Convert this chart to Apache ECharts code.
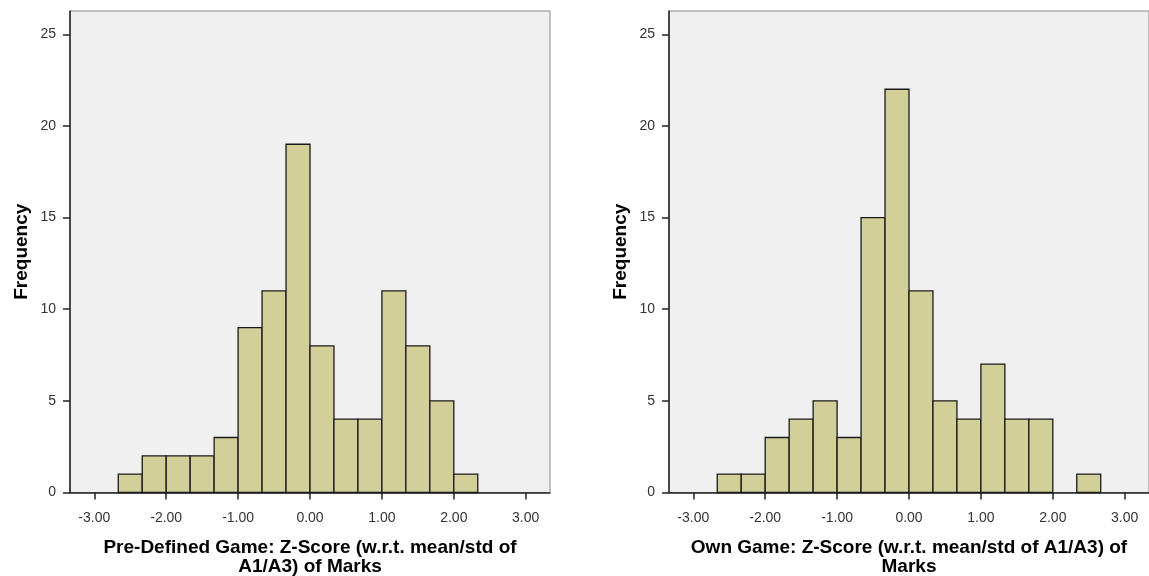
<!DOCTYPE html>
<html><head><meta charset="utf-8">
<script src="https://cdn.jsdelivr.net/npm/echarts@6/dist/echarts.min.js"></script>
<style>html,body{margin:0;padding:0;background:#fff}#c{width:1149px;height:576px}</style>
</head><body><div id="c"></div>
<script>
// Bin edges (width 1/3) from -8/3 to 8/3
const binEdges = [-8/3,-7/3,-6/3,-5/3,-4/3,-3/3,-2/3,-1/3,0,1/3,2/3,3/3,4/3,5/3,6/3,7/3,8/3];
const preDefinedCounts = [1,2,2,2,3,9,11,19,8,4,4,11,8,5,1,0];
const ownGameCounts    = [1,1,3,4,5,3,15,22,11,5,4,7,4,4,0,1];
const xTickValues = [-3,-2,-1,0,1,2,3];
const yTickValues = [0,5,10,15,20,25];
const xTitles = ['Pre-Defined Game: Z-Score (w.r.t. mean/std of\nA1/A3) of Marks',
                 'Own Game: Z-Score (w.r.t. mean/std of A1/A3) of\nMarks'];
const yTitle = 'Frequency';

function binData(counts){
  const out=[];
  counts.forEach((c,i)=>{ if(c>0) out.push([binEdges[i],binEdges[i+1],c]); });
  return out;
}
const font = 'Liberation Sans, Arial, sans-serif';
const grids = [
  {left:70, top:11, width:480, height:481.5, show:true, backgroundColor:'#F0F0F0', borderColor:'#8a8a8a', borderWidth:1, outerBoundsMode:'none', containLabel:false},
  {left:669, top:11, width:480, height:481.5, show:true, backgroundColor:'#F0F0F0', borderColor:'#8a8a8a', borderWidth:1, outerBoundsMode:'none', containLabel:false}
];
const xAxes = [0,1].map(i=>({
  type:'value', gridIndex:i, min:-3.338, max:3.338,
  axisLine:{show:true, onZero:false, lineStyle:{color:'#222', width:1.5}},
  axisTick:{show:true, customValues:xTickValues, length:7, lineStyle:{color:'#222', width:1.5}},
  axisLabel:{customValues:xTickValues, formatter:v=>v.toFixed(2), color:'#333', fontFamily:font, fontSize:14, margin:19},
  splitLine:{show:false},
  name:xTitles[i], nameLocation:'middle', nameGap:46,
  nameTextStyle:{fontFamily:font, fontWeight:'bold', fontSize:19, color:'#000', lineHeight:19, verticalAlign:'top'}
}));
const yAxes = [0,1].map(i=>({
  type:'value', gridIndex:i, min:0, max:26.27,
  axisLine:{show:true, onZero:false, lineStyle:{color:'#222', width:1.5}},
  axisTick:{show:true, customValues:yTickValues, length:7, lineStyle:{color:'#222', width:1.5}},
  axisLabel:{customValues:yTickValues, color:'#333', fontFamily:font, fontSize:14, margin:14},
  splitLine:{show:false},
  name:yTitle, nameLocation:'middle', nameGap:39,
  nameTextStyle:{fontFamily:font, fontWeight:'bold', fontSize:19, color:'#000'}
}));
function histSeries(idx, counts){
  return {
    type:'custom', xAxisIndex:idx, yAxisIndex:idx,
    data:binData(counts),
    renderItem:function(params, api){
      const p0 = api.coord([api.value(0), api.value(2)]);
      const p1 = api.coord([api.value(1), 0]);
      return {type:'rect', shape:{x:p0[0], y:p0[1], width:p1[0]-p0[0], height:p1[1]-p0[1]},
        style:{fill:'#D3CF98', stroke:'#1a1a1a', lineWidth:1.3}};
    }
  };
}
const chart = echarts.init(document.getElementById('c'), null, {renderer:'canvas'});
chart.setOption({
  animation:false,
  grid:grids, xAxis:xAxes, yAxis:yAxes,
  series:[histSeries(0, preDefinedCounts), histSeries(1, ownGameCounts)]
});
</script></body></html>
